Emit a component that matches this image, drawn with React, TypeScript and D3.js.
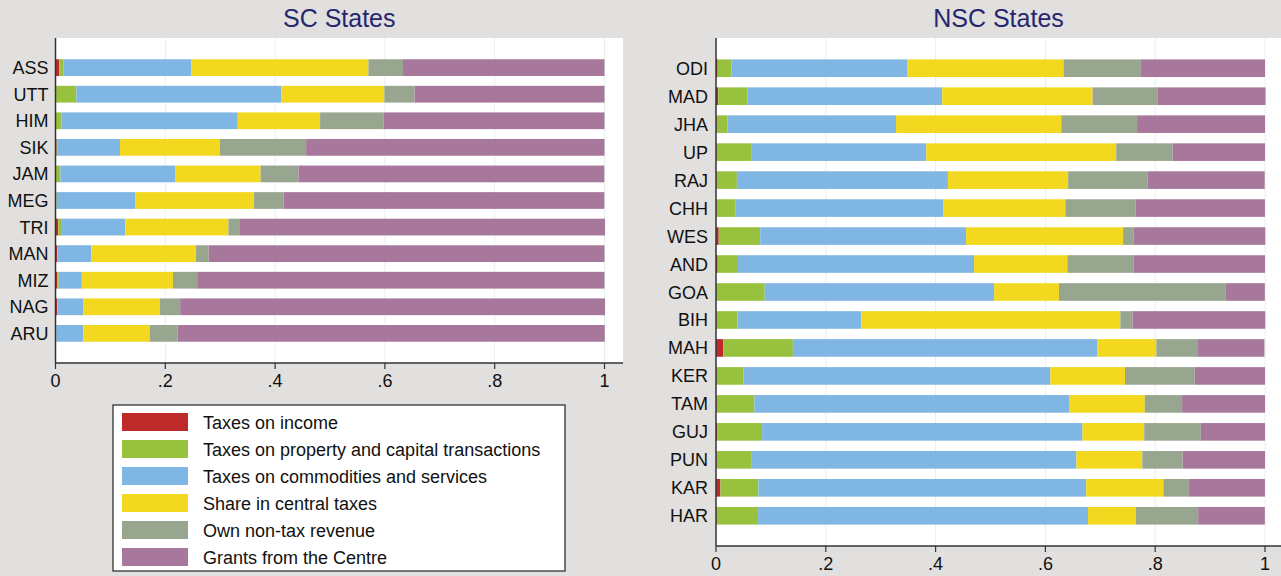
import React from 'react';
import * as d3 from 'd3';

// revenue shares by state
const seriesNames = [
  'Taxes on income',
  'Taxes on property and capital transactions',
  'Taxes on commodities and services',
  'Share in central taxes',
  'Own non-tax revenue',
  'Grants from the Centre',
];
const seriesColors = ['#be2a2a', '#98c23e', '#80b6e3', '#f2d91f', '#98a68f', '#a8789c'];
const ticks = [0, 0.2, 0.4, 0.6, 0.8, 1];
const tickLabels = ['0', '.2', '.4', '.6', '.8', '1'];

const scStates = ['ASS', 'UTT', 'HIM', 'SIK', 'JAM', 'MEG', 'TRI', 'MAN', 'MIZ', 'NAG', 'ARU'];
const scIncome = [0.007, 0.001, 0.0, 0.002, 0.001, 0.0, 0.005, 0.003, 0.003, 0.003, 0.0];
const scProperty = [0.008, 0.037, 0.011, 0.002, 0.008, 0.002, 0.005, 0.001, 0.003, 0.001, 0.0015];
const scCommodities = [0.232, 0.373, 0.321, 0.1135, 0.2096, 0.1437, 0.117, 0.061, 0.042, 0.047, 0.049];
const scCentral = [0.323, 0.188, 0.15, 0.182, 0.155, 0.216, 0.188, 0.191, 0.166, 0.139, 0.121];
const scNonTax = [0.063, 0.055, 0.116, 0.157, 0.069, 0.054, 0.021, 0.023, 0.044, 0.037, 0.051];
const scGrants = [0.367, 0.346, 0.402, 0.5435, 0.557, 0.584, 0.665, 0.721, 0.742, 0.774, 0.778];

const nscStates = ['ODI', 'MAD', 'JHA', 'UP', 'RAJ', 'CHH', 'WES', 'AND', 'GOA', 'BIH', 'MAH', 'KER', 'TAM', 'GUJ', 'PUN', 'KAR', 'HAR'];
const nscIncome = [0.003, 0.004, 0.001, 0.001, 0.001, 0.001, 0.005, 0.003, 0.0, 0.001, 0.013, 0.001, 0.001, 0.002, 0.001, 0.008, 0.001];
const nscProperty = [0.025, 0.053, 0.02, 0.063, 0.037, 0.034, 0.0755, 0.037, 0.0887, 0.038, 0.127, 0.049, 0.069, 0.082, 0.063, 0.0693, 0.0757];
const nscCommodities = [0.32, 0.355, 0.307, 0.319, 0.3845, 0.3786, 0.375, 0.43, 0.418, 0.226, 0.555, 0.559, 0.573, 0.5835, 0.5925, 0.597, 0.601];
const nscCentral = [0.285, 0.274, 0.301, 0.346, 0.219, 0.2228, 0.286, 0.17, 0.118, 0.4715, 0.107, 0.136, 0.138, 0.1125, 0.12, 0.1406, 0.087];
const nscNonTax = [0.141, 0.118, 0.138, 0.103, 0.145, 0.128, 0.019, 0.121, 0.303, 0.022, 0.076, 0.127, 0.068, 0.103, 0.0735, 0.0464, 0.1135];
const nscGrants = [0.226, 0.197, 0.233, 0.168, 0.213, 0.2355, 0.24, 0.239, 0.072, 0.242, 0.121, 0.128, 0.151, 0.117, 0.15, 0.1386, 0.1215];

const FONT = '"Liberation Sans", Arial, Helvetica, sans-serif';

const makeRows = (states: string[], cols: number[][]) =>
  states.map((s, i) => {
    const row: any = { state: s };
    seriesNames.forEach((k, j) => (row[k] = cols[j][i]));
    return row;
  });

const Panel = ({ title, states, cols, x0, x1, plotRight, top, bottom, labelGap }: any) => {
  const rows = makeRows(states, cols);
  const stacked = d3.stack().keys(seriesNames)(rows);
  const x = d3.scaleLinear().domain([0, 1]).range([x0, x1]);
  const n = states.length;
  const inner = 0.37;
  // first and last bars sit ~16px in from the plot edges
  const step = (bottom - top - 32) / (n - inner + (1 - inner));
  const y = d3
    .scaleBand()
    .domain(states)
    .range([top, bottom])
    .paddingInner(inner)
    .paddingOuter(16 / step + inner / 2);

  return (
    <g>
      <rect x={x0} y={top} width={plotRight - x0} height={bottom - top} fill="#ffffff" />
      {ticks.map(t => (
        <line key={t} x1={x(t)} x2={x(t)} y1={top} y2={bottom} stroke="#e6eff0" strokeWidth={1} />
      ))}
      {stacked.map((layer, j) => (
        <g key={layer.key} fill={seriesColors[j]}>
          {layer.map((d: any, i: number) => (
            <rect
              key={i}
              x={x(d[0])}
              y={y(states[i])}
              width={Math.max(0, x(d[1]) - x(d[0]))}
              height={y.bandwidth()}
            />
          ))}
        </g>
      ))}
      <line x1={x0} x2={x0} y1={top} y2={bottom} stroke="#333" strokeWidth={1.5} />
      <line x1={x0} x2={plotRight} y1={bottom} y2={bottom} stroke="#333" strokeWidth={1.5} />
      {ticks.map((t, i) => (
        <g key={'t' + t}>
          <line x1={x(t)} x2={x(t)} y1={bottom} y2={bottom + 6} stroke="#333" strokeWidth={1.2} />
          <text x={x(t)} y={bottom + 24} textAnchor="middle" fontSize={18} fontFamily={FONT} fill="#111">
            {tickLabels[i]}
          </text>
        </g>
      ))}
      {states.map(s => (
        <text
          key={s}
          x={x0 - labelGap}
          y={(y(s) as number) + y.bandwidth() / 2 + 6.5}
          textAnchor="end"
          fontSize={18}
          fontFamily={FONT}
          fill="#111"
        >
          {s}
        </text>
      ))}
      <text x={(x0 + Math.min(plotRight, 1281)) / 2} y={27} textAnchor="middle" fontSize={25} fontFamily={FONT} fill="#26266e">
        {title}
      </text>
    </g>
  );
};

const Legend = () => {
  const ly = d3.scaleBand().domain(seriesNames).range([408.5, 570.5]).paddingInner(1 / 3).paddingOuter(1 / 6);
  return (
    <g>
      <rect x={113} y={405} width={452} height={166} fill="#fff" stroke="#222" strokeWidth={1.2} />
      {seriesNames.map((s, i) => (
        <g key={s}>
          <rect x={122} y={ly(s)} width={66} height={ly.bandwidth()} fill={seriesColors[i]} />
          <text x={203} y={(ly(s) as number) + ly.bandwidth() / 2 + 6.5} fontSize={18} fontFamily={FONT} fill="#111">
            {s}
          </text>
        </g>
      ))}
    </g>
  );
};

export default function App() {
  const scCols = [scIncome, scProperty, scCommodities, scCentral, scNonTax, scGrants];
  const nscCols = [nscIncome, nscProperty, nscCommodities, nscCentral, nscNonTax, nscGrants];
  return (
    <svg width={1281} height={576} style={{ position: 'absolute', left: 0, top: 0, background: '#e1e0de' }}>
      <rect width={1281} height={576} fill="#e1e0de" />
      <Panel title="SC States" states={scStates} cols={scCols} x0={55.5} x1={604.5} plotRight={623} top={38} bottom={363} labelGap={7} />
      <Panel title="NSC States" states={nscStates} cols={nscCols} x0={716} x1={1265} plotRight={1281} top={38} bottom={546} labelGap={8} />
      <Legend />
    </svg>
  );
}
